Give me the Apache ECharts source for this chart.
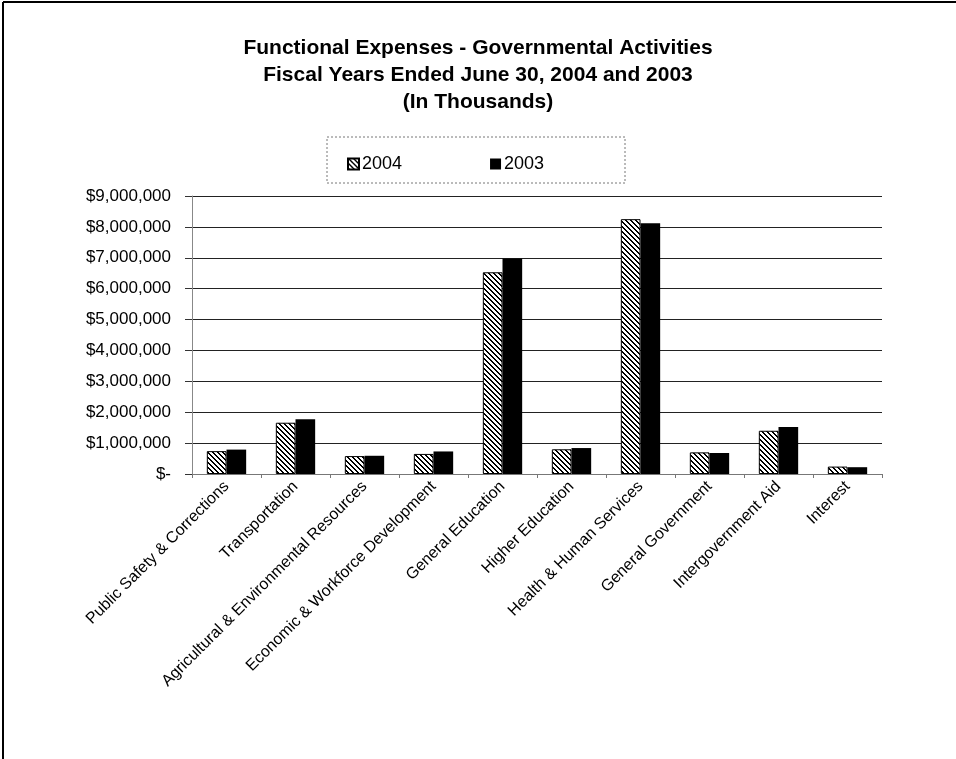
<!DOCTYPE html>
<html>
<head>
<meta charset="utf-8">
<script src="https://cdn.jsdelivr.net/npm/echarts@6/dist/echarts.min.js"></script>
<style>
html,body{margin:0;padding:0;background:#fff;}
#chart{width:956px;height:759px;}
</style>
</head>
<body>
<div id="chart"></div>
<script>
const titleLines = ['Functional Expenses - Governmental Activities', 'Fiscal Years Ended June 30, 2004 and 2003', '(In Thousands)'];
const categories = ['Public Safety & Corrections', 'Transportation', 'Agricultural & Environmental Resources', 'Economic & Workforce Development', 'General Education', 'Higher Education', 'Health & Human Services', 'General Government', 'Intergovernment Aid', 'Interest'];
const seriesNames = ['2004', '2003'];
const values2004 = [740000, 1660000, 580000, 650000, 6530000, 800000, 8250000, 700000, 1400000, 240000];
const values2003 = [790000, 1770000, 590000, 730000, 6980000, 840000, 8120000, 680000, 1520000, 220000];
const yTicks = { min: 0, max: 9000000, interval: 1000000 };

function hatch() {
  const P = 5, c = document.createElement('canvas');
  c.width = P; c.height = P;
  const ctx = c.getContext('2d');
  const img = ctx.createImageData(P, P);
  for (let y = 0; y < P; y++) for (let x = 0; x < P; x++) {
    const on = (((x - y) % P) + P) % P < 2;
    const i = (y * P + x) * 4;
    const v = on ? 0 : 255;
    img.data[i] = v; img.data[i+1] = v; img.data[i+2] = v; img.data[i+3] = 255;
  }
  ctx.putImageData(img, 0, 0);
  return c;
}
const hatchFill = { image: hatch(), repeat: 'repeat' };

const chart = echarts.init(document.getElementById('chart'), null, { renderer: 'canvas' });
const font = 'Liberation Sans, Arial, sans-serif';
chart.setOption({
  animation: false,
  backgroundColor: '#fff',
  title: {
    text: titleLines.join('\n'),
    left: 'center', top: 30,
    textStyle: { fontFamily: font, fontSize: 21, fontWeight: 'bold', color: '#000', lineHeight: 27 }
  },
  legend: {
    data: seriesNames,
    left: 342, top: 150,
    itemWidth: 11, itemHeight: 11, itemGap: 88,
    icon: 'rect',
    textStyle: { fontFamily: font, fontSize: 18, color: '#000', padding: [0, 0, 0, -2] }
  },
  graphic: [
    { type: 'rect', shape: { x: 327, y: 137, width: 298, height: 46 }, style: { fill: 'none', stroke: '#777', lineWidth: 1, lineDash: [2, 2] } },
    { type: 'line', shape: { x1: 3, y1: 2, x2: 956, y2: 2 }, style: { stroke: '#000', lineWidth: 2 } },
    { type: 'line', shape: { x1: 3, y1: 2, x2: 3, y2: 759 }, style: { stroke: '#000', lineWidth: 2 } }
  ],
  grid: { left: 192, right: 74, top: 196, bottom: 285, containLabel: false },
  xAxis: {
    type: 'category',
    data: categories,
    axisLine: { lineStyle: { color: '#777', width: 1 } },
    axisTick: { show: true, length: 4, lineStyle: { color: '#777' } },
    axisLabel: { interval: 0, rotate: 45, fontFamily: font, fontSize: 16, color: '#000', margin: 10 }
  },
  yAxis: {
    type: 'value',
    min: yTicks.min, max: yTicks.max, interval: yTicks.interval,
    axisLine: { show: true, lineStyle: { color: '#888', width: 1 } },
    axisTick: { show: true, length: 7, lineStyle: { color: '#333' } },
    splitLine: { lineStyle: { color: '#222', width: 1 } },
    axisLabel: {
      fontFamily: font, fontSize: 17, color: '#000', margin: 21,
      formatter: v => v === 0 ? '$-' : '$' + v.toLocaleString('en-US')
    }
  },
  series: [
    { name: seriesNames[0], type: 'bar', data: values2004, barGap: '0%', barCategoryGap: '43%',
      itemStyle: { color: hatchFill, borderColor: '#000', borderWidth: 1 } },
    { name: seriesNames[1], type: 'bar', data: values2003, barGap: '0%', barCategoryGap: '43%',
      itemStyle: { color: '#000' } }
  ]
});
</script>
</body>
</html>
